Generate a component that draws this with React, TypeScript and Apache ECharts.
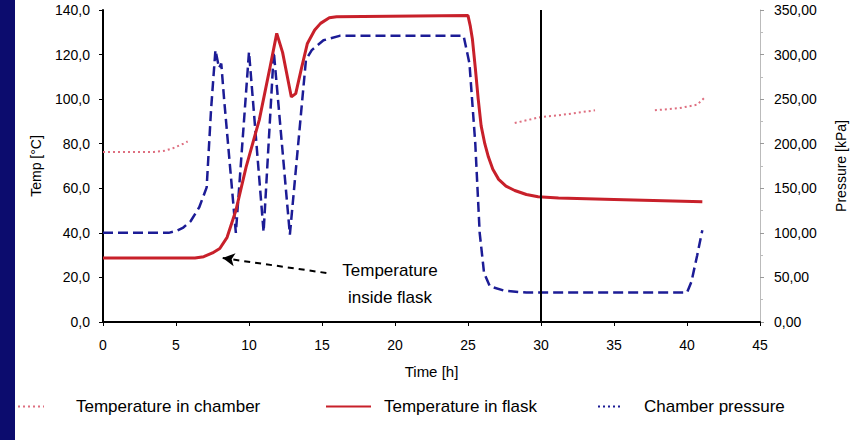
import React, { useEffect, useRef } from 'react';
import * as echarts from 'echarts';

// ---- data ----
const seriesNames = ['Temperature in chamber', 'Temperature in flask', 'Chamber pressure'];

const chamberTime = [0, 3.5, 4.2, 4.8, 5.5, 5.8, 6.0, 28.2, 30, 31.5, 33.7, 35.5, 37.8, 39.5, 40.7, 41.25];
const chamberTemp = [76.3, 76.3, 76.8, 78, 80, 81, null, 89.3, 92, 93, 95, null, 95, 96, 97.5, 101];

const flaskTime = [0, 6.3, 6.9, 7.5, 8.0, 8.5, 9.1, 9.8, 10.7, 11.4, 11.9, 12.3, 12.9, 13.2, 13.6, 14.0, 14.5, 14.9, 15.5, 16.0, 25.0, 25.15, 25.3, 25.5, 25.7, 25.9, 26.15, 26.4, 26.7, 27.1, 27.6, 28.2, 29.0, 29.8, 31.2, 35, 41.05];
const flaskTemp = [28.7, 28.7, 29.3, 31, 33, 38, 50, 69.5, 90.6, 113, 129.5, 121, 101, 102.5, 114, 125, 131, 134, 136.5, 137, 137.5, 133, 127, 114, 100, 88, 80, 74, 68.5, 64, 61, 59, 57.2, 56.2, 55.6, 55, 54];

const pressureTime = [0, 4.5, 5.0, 5.5, 6.0, 6.6, 7.1, 7.4, 7.7, 7.95, 8.1, 8.3, 9.1, 10.0, 11.0, 11.7, 12.8, 13.9, 14.3, 15.1, 16.2, 24.7, 25.1, 25.5, 25.8, 26.1, 26.5, 27.5, 29, 35, 40.0, 40.3, 40.7, 41.05];
const pressureKPa = [100, 100, 102, 106, 113, 129, 151, 238, 305, 285, 290, 249, 100, 303, 101, 303, 98, 294, 305, 316, 321, 321, 290, 200, 100, 55, 40, 35, 33, 33, 33, 45, 75, 103];

const markerTime = 30;
const arrowFrom = [15.3, 22];
const arrowTo = [8.2, 28.7];
const annotationLines = ['Temperature', 'inside flask'];

const axisNames = { x: 'Time [h]', left: 'Temp [°C]', right: 'Pressure [kPa]' };

const FONT = "'Liberation Sans', Arial, sans-serif";

const pairs = (t: number[], v: (number | null)[]) =>
  t.map((x, i) => [x, v[i] === null ? '-' : v[i]]);

export default function App() {
  const ref = useRef<HTMLDivElement>(null);

  useEffect(() => {
    if (!ref.current) return;
    const chart = echarts.init(ref.current, undefined, { renderer: 'svg' });
    const textBase = { color: '#000', fontFamily: FONT };
    const legendBase = {
      top: 398,
      padding: 0,
      itemHeight: 14,
      itemStyle: { opacity: 0 },
      textStyle: { ...textBase, fontSize: 17 },
    };
    chart.setOption({
      animation: false,
      backgroundColor: '#ffffff',
      grid: { left: 103, right: 93, top: 10, bottom: 118 },
      xAxis: {
        type: 'value',
        min: 0,
        max: 45,
        interval: 5,
        name: axisNames.x,
        nameLocation: 'middle',
        nameGap: 42,
        nameTextStyle: { ...textBase, fontSize: 15 },
        axisLine: { lineStyle: { color: '#000', width: 2 } },
        axisTick: { show: true, length: 4, lineStyle: { color: '#000' } },
        axisLabel: { ...textBase, fontSize: 14, margin: 16 },
        splitLine: { show: false },
      },
      yAxis: [
        {
          type: 'value',
          min: 0,
          max: 140,
          interval: 20,
          name: axisNames.left,
          nameLocation: 'middle',
          nameGap: 60,
          nameRotate: 90,
          nameTextStyle: { ...textBase, fontSize: 14 },
          axisLine: { show: true, lineStyle: { color: '#000', width: 2 } },
          axisTick: { show: true, length: 4, lineStyle: { color: '#000' } },
          axisLabel: {
            ...textBase,
            fontSize: 14,
            margin: 13,
            formatter: (v: number) => v.toFixed(1).replace('.', ','),
          },
          splitLine: { show: false },
        },
        {
          type: 'value',
          position: 'right',
          min: 0,
          max: 350,
          interval: 50,
          name: axisNames.right,
          nameLocation: 'middle',
          nameGap: 74,
          nameRotate: 90,
          nameTextStyle: { ...textBase, fontSize: 14 },
          axisLine: { show: true, lineStyle: { color: '#bbbbbb', width: 1 } },
          axisTick: { show: true, length: 4, lineStyle: { color: '#999' } },
          minorTick: { show: true, splitNumber: 2, length: 3, lineStyle: { color: '#bbb' } },
          axisLabel: {
            ...textBase,
            fontSize: 14,
            margin: 14,
            formatter: (v: number) => v.toFixed(2).replace('.', ','),
          },
          splitLine: { show: false },
        },
      ],
      legend: [
        {
          ...legendBase,
          left: 17,
          itemWidth: 26,
          data: [seriesNames[0]],
          textStyle: { ...legendBase.textStyle, padding: [0, 0, 0, 27] },
        },
        {
          ...legendBase,
          left: 325,
          itemWidth: 45,
          data: [seriesNames[1]],
          textStyle: { ...legendBase.textStyle, padding: [0, 0, 0, 8] },
        },
        {
          ...legendBase,
          left: 597,
          itemWidth: 23,
          data: [seriesNames[2]],
          lineStyle: { type: [2, 3] },
          textStyle: { ...legendBase.textStyle, padding: [0, 0, 0, 18] },
        },
      ],
      series: [
        {
          name: seriesNames[0],
          type: 'line',
          yAxisIndex: 0,
          data: pairs(chamberTime, chamberTemp),
          symbol: 'none',
          connectNulls: false,
          color: '#de6f80',
          lineStyle: { color: '#de6f80', width: 2, type: [2, 3] },
          z: 2,
        },
        {
          name: seriesNames[2],
          type: 'line',
          yAxisIndex: 1,
          data: pairs(pressureTime, pressureKPa),
          symbol: 'none',
          color: '#1c1c96',
          lineStyle: { color: '#1c1c96', width: 2.5, type: [10, 5] },
          z: 3,
        },
        {
          name: seriesNames[1],
          type: 'line',
          yAxisIndex: 0,
          data: pairs(flaskTime, flaskTemp),
          symbol: 'none',
          color: '#c8202a',
          lineStyle: { color: '#c8202a', width: 3 },
          z: 4,
          markLine: {
            silent: true,
            animation: false,
            symbol: ['none', 'none'],
            label: { show: false },
            data: [
              { xAxis: markerTime, lineStyle: { color: '#000', width: 2, type: 'solid' } },
              [
                { coord: arrowFrom, symbol: 'none', lineStyle: { color: '#000', width: 2, type: [6, 5] } },
                { coord: arrowTo, symbol: 'arrow', symbolSize: [10, 12], lineStyle: { color: '#000', width: 2, type: [6, 5] } },
              ],
            ],
          },
        },
      ],
      graphic: [
        {
          type: 'text',
          x: 390,
          y: 257,
          style: {
            text: annotationLines.join('\n'),
            fontSize: 17,
            fontFamily: FONT,
            fill: '#000',
            align: 'center',
            verticalAlign: 'top',
            lineHeight: 27,
          },
        },
      ],
    });
    return () => chart.dispose();
  }, []);

  return (
    <div style={{ position: 'fixed', left: 0, top: 0, width: 856, height: 440, background: '#fff' }}>
      <div ref={ref} style={{ position: 'absolute', left: 0, top: 0, width: 856, height: 440 }} />
      <div style={{ position: 'absolute', left: 0, top: 0, width: 15, height: 440, background: '#0c0c6e' }} />
    </div>
  );
}
